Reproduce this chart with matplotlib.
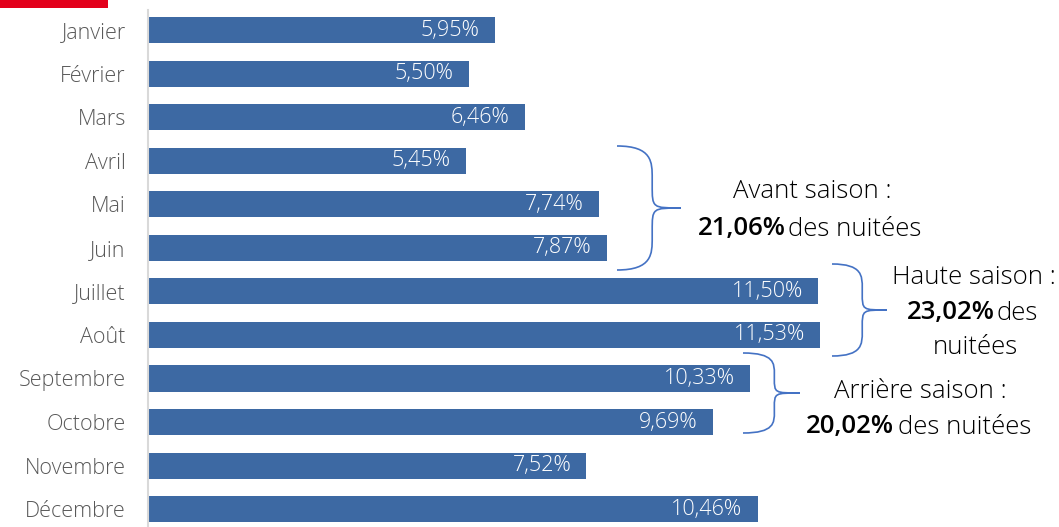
import matplotlib
matplotlib.use("Agg")
import matplotlib.pyplot as plt
from matplotlib.path import Path
from matplotlib.patches import PathPatch

#%% data
mois = ["Janvier", "Février", "Mars", "Avril", "Mai", "Juin", "Juillet", "Août",
        "Septembre", "Octobre", "Novembre", "Décembre"]
parts = [5.95, 5.50, 6.46, 5.45, 7.74, 7.87, 11.50, 11.53, 10.33, 9.69, 7.52, 10.46]
saisons = ["Avant saison :", "Haute saison :", "Arrière saison :"]
totaux = ["21,06%", "23,02%", "20,02%"]

plt.rcParams['font.family'] = ['Open Sans', 'DejaVu Sans']
bleu = '#3D69A3'
W, H = 1059, 527

fig = plt.figure(figsize=(W/100, H/100), dpi=100)
ax = fig.add_axes([148/W, 0, 1-148/W, 1])
y = range(len(mois))
ax.barh(y, parts, height=0.6, color=bleu)
ax.set_xlim(0, (W-148)/58.3)
ax.set_ylim(11.41, -0.689)
ax.set_yticks(list(y))
ax.set_yticklabels(mois, color='#595959', fontsize=15.5, fontweight='light')
ax.tick_params(axis='y', length=0, pad=16)
ax.set_xticks([])
for s in ['top', 'right', 'bottom']:
    ax.spines[s].set_visible(False)
ax.spines['left'].set_color('#D9D9D9')
ax.spines['left'].set_linewidth(1.5)
ax.spines['left'].set_bounds(-0.46, 11.41)
for i, v in enumerate(parts):
    ax.annotate(("%.2f%%" % v).replace('.', ','), (v, i), xytext=(-11, 0),
                textcoords='offset points', ha='right', va='center',
                color='white', fontsize=15.5, fontweight='light')

#%% overlay in pixel coords for braces / texts
ov = fig.add_axes([0, 0, 1, 1])
ov.set_xlim(0, W)
ov.set_ylim(H, 0)
ov.axis('off')
ov.patch.set_alpha(0)
ov.add_patch(plt.Rectangle((0, 0), 108, 8, color='#E3001B', lw=0))

def brace(x0, y0, y1, xt):
    ym = (y0 + y1) / 2
    xm = x0 + 0.55 * (xt - x0)
    a = (y1 - y0) * 0.26
    verts = [(x0, y0), (xm, y0), (xm, y0 + a*0.5), (xm, y0 + a),
             (xm, ym - a*0.7), (xm, ym), (xm, ym), (xt, ym),
             (xm, ym), (xm, ym), (xm, ym + a*0.7),
             (xm, y1 - a), (xm, y1 - a*0.5), (xm, y1), (x0, y1)]
    codes = [Path.MOVETO, Path.CURVE4, Path.CURVE4, Path.CURVE4,
             Path.LINETO, Path.CURVE4, Path.CURVE4, Path.CURVE4,
             Path.CURVE4, Path.CURVE4, Path.CURVE4,
             Path.LINETO, Path.CURVE4, Path.CURVE4, Path.CURVE4]
    ov.add_patch(PathPatch(Path(verts, codes), fill=False, ec='#4472C4', lw=1.2))

brace(617, 146, 270, 681)
brace(832, 264, 356, 887)
brace(743, 353, 433, 800)

fs = 18.5
ov.text(812, 191, saisons[0], ha='center', va='center', fontsize=fs, fontweight='light')
ov.text(786, 229, totaux[0], ha='right', va='center', fontsize=fs, fontweight='semibold')
ov.text(788, 229, "des nuitées", ha='left', va='center', fontsize=fs, fontweight='light')
ov.text(974, 278, saisons[1], ha='center', va='center', fontsize=fs, fontweight='light')
ov.text(995, 313, totaux[1], ha='right', va='center', fontsize=fs, fontweight='semibold')
ov.text(997, 313, "des", ha='left', va='center', fontsize=fs, fontweight='light')
ov.text(975, 348, "nuitées", ha='center', va='center', fontsize=fs, fontweight='light')
ov.text(920, 391, saisons[2], ha='center', va='center', fontsize=fs, fontweight='light')
ov.text(894, 427, totaux[2], ha='right', va='center', fontsize=fs, fontweight='semibold')
ov.text(898, 427, "des nuitées", ha='left', va='center', fontsize=fs, fontweight='light')

fig.savefig("out.png", dpi=100)
